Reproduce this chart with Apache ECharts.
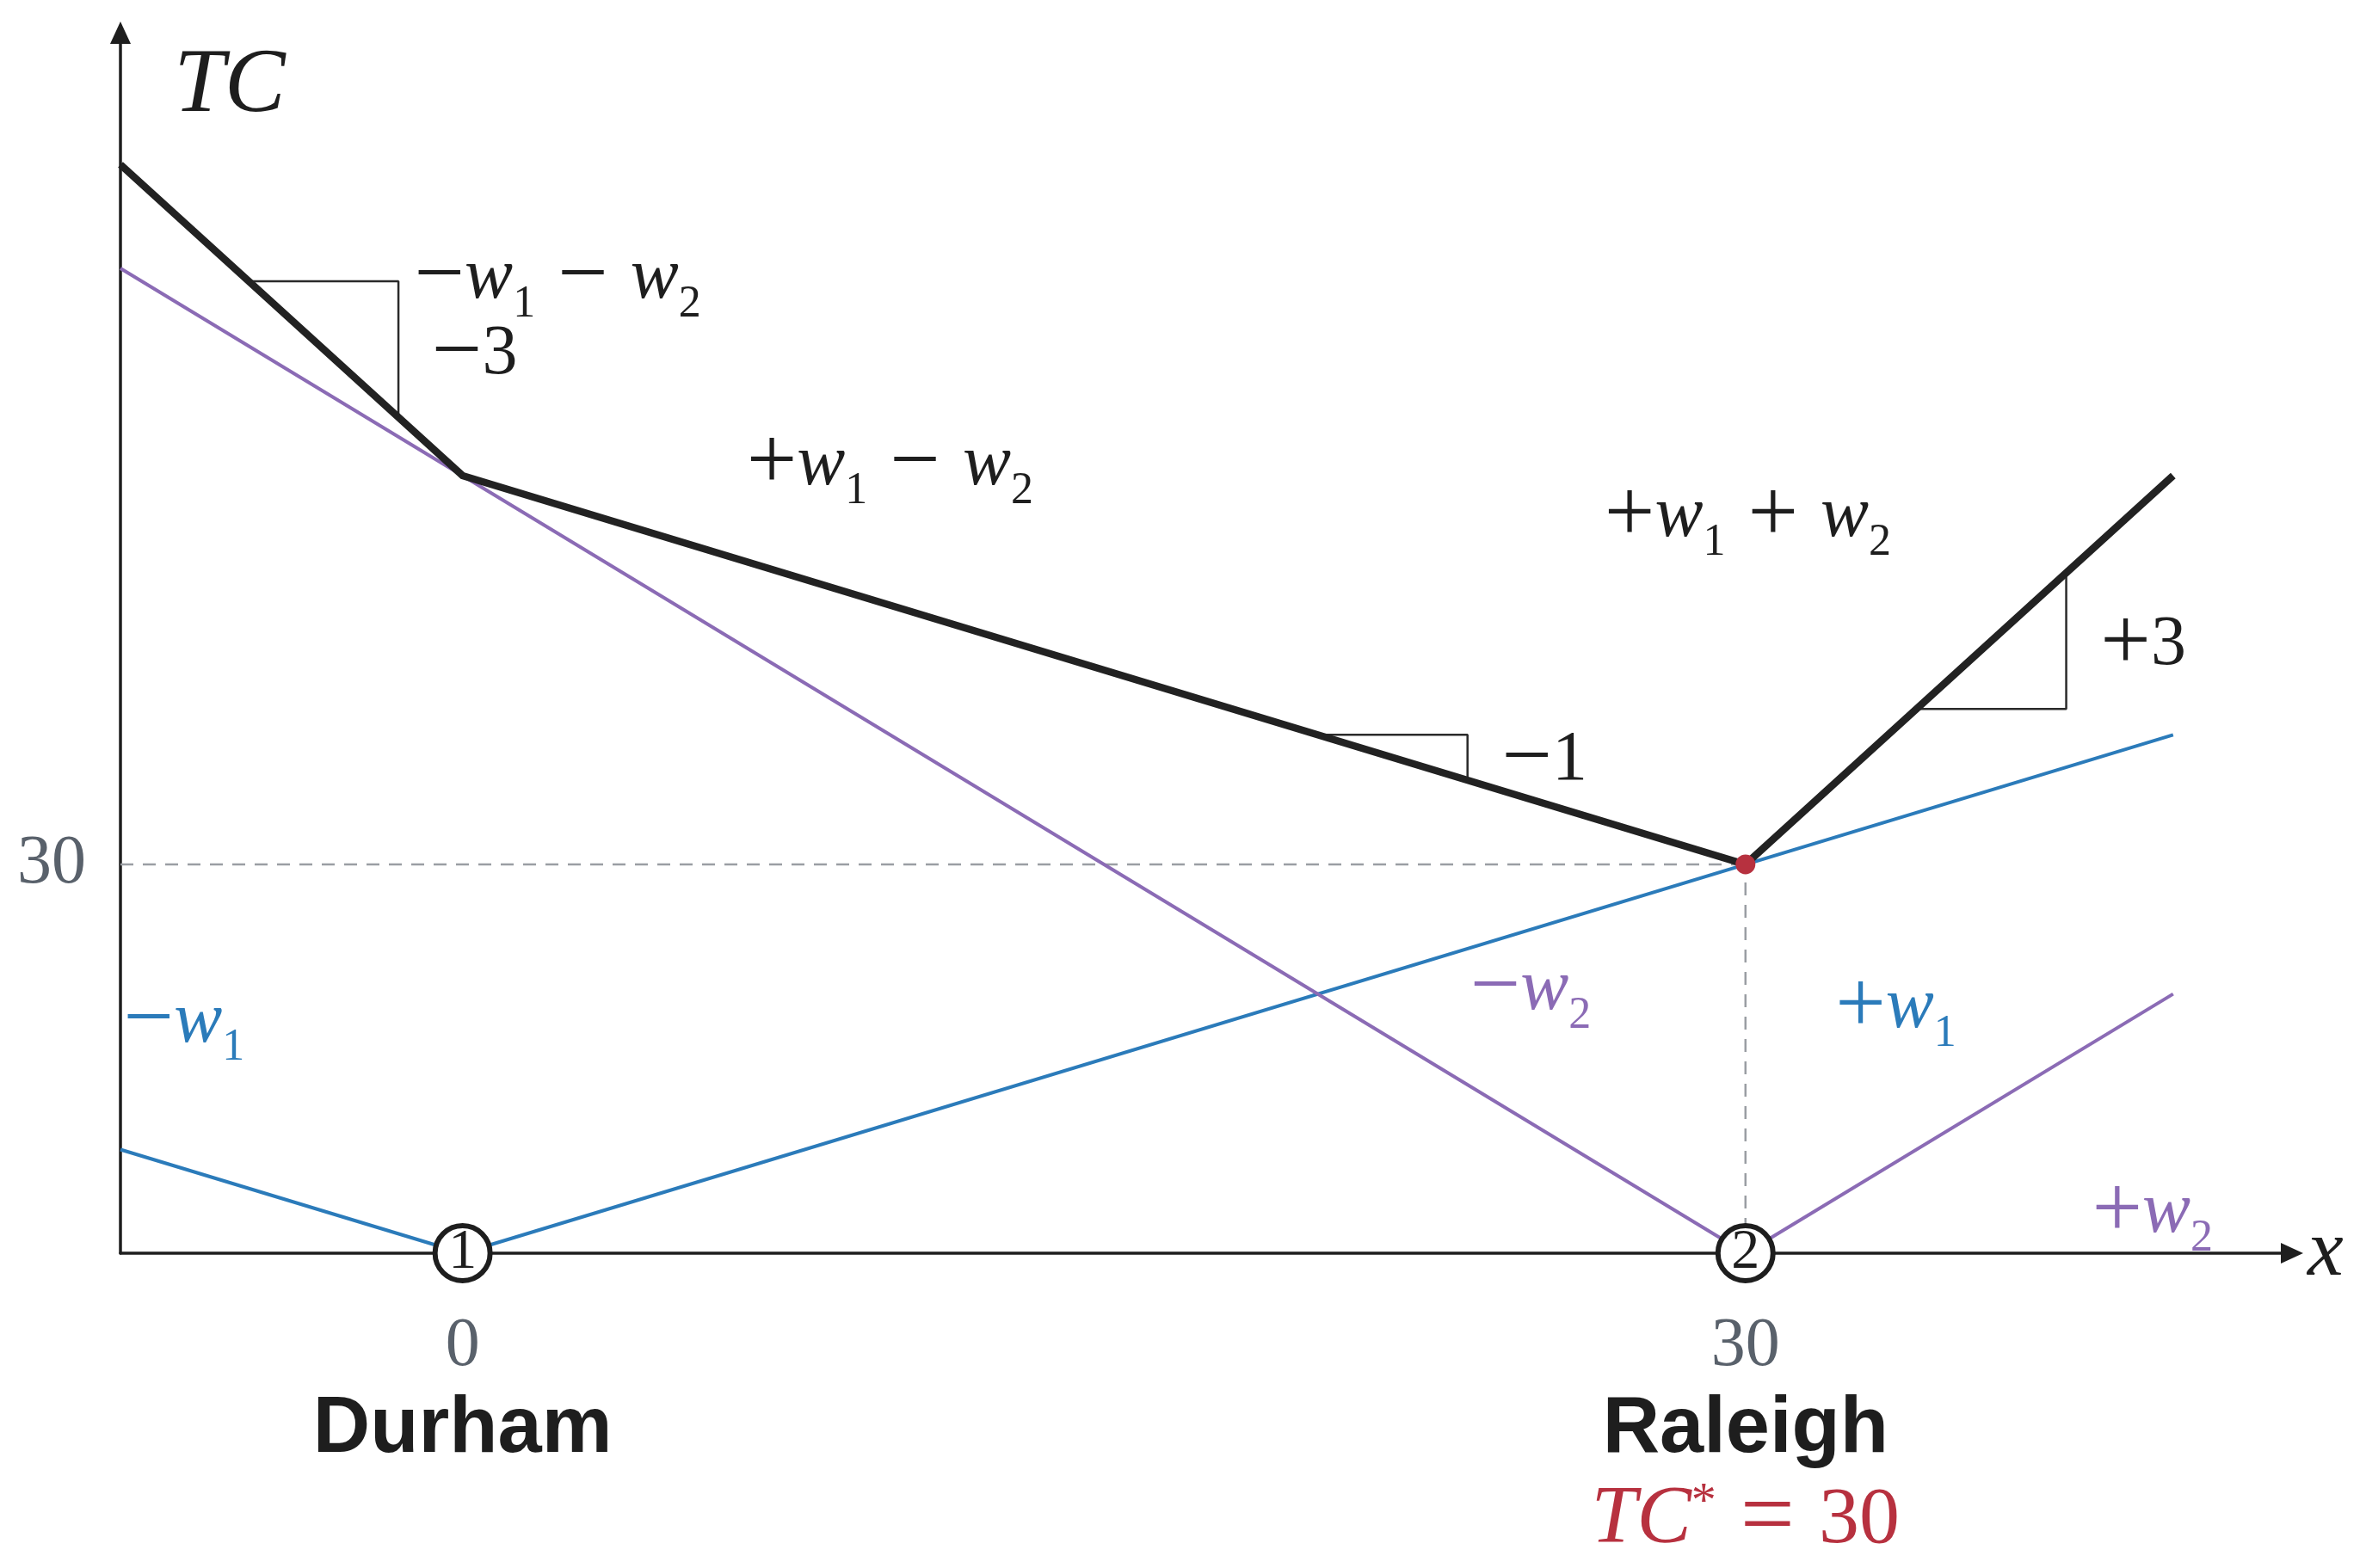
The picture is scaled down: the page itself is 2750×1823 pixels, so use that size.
<!DOCTYPE html>
<html>
<head>
    <meta charset="utf-8">
    <title>Total cost TC</title>
    <script src="https://cdn.jsdelivr.net/npm/echarts@6/dist/echarts.min.js"></script>
    <style>html, body { margin: 0; padding: 0; background: #fff; }</style>
</head>
<body>
<div id="main" style="width: 2750px;height:1823px;"></div>
<script type="text/javascript">
    // chart values
    const xTicks = [0, 30];
    const yTicks = [30];
    const cities = ['Durham', 'Raleigh'];
    const totalCost = [[-8, 84], [0, 60], [30, 30], [40, 60]];
    const costW1 = [[-8, 8], [0, 0], [40, 40]];
    const costW2 = [[-8, 76], [30, 0], [40, 20]];
    const optimum = [[30, 30]];
    const sites = [[0, 0, '1'], [30, 0, '2']];
    const slopeLeft = [[-5, 75], [-1.5, 75], [-1.5, 64.5]];
    const slopeMid = [[20, 40], [23.5, 40], [23.5, 36.5]];
    const slopeRight = [[34, 42], [37.5, 42], [37.5, 52.5]];
    const guideH = [[-8, 30], [30, 30]];
    const guideV = [[30, 0], [30, 30]];

    const BLUE = '#2b7bba';
    const PURPLE = '#8b6bb5';
    const INK = '#1e1e1e';
    const RED = '#b7313f';
    const SERIF = 'Liberation Serif';

    // annotation texts (left edge / vertical middle in data units)
    const inkNotes = [
        [[-6.75, 90.0], '{big|TC}'],
        [[-1.13, 75.2], '{p|−}{i|w}{s|1}{p| − }{i|w}{s|2}'],
        [[-0.72, 69.3], '{p|−}{d|3}'],
        [[6.64, 60.8], '{p|+}{i|w}{s|1}{p| − }{i|w}{s|2}'],
        [[26.7, 56.8], '{p|+}{i|w}{s|1}{p| + }{i|w}{s|2}'],
        [[24.3, 38.0], '{p|−}{d|1}'],
        [[38.3, 46.9], '{p|+}{d|3}']
    ];
    const blueNotes = [
        [[32.1, 18.9], '{p|+}{i|w}{s|1}'],
        [[-7.93, 17.8], '{p|−}{i|w}{s|1}']
    ];
    const purpleNotes = [
        [[23.56, 20.3], '{p|−}{i|w}{s|2}'],
        [[38.1, 3.1], '{p|+}{i|w}{s|2}']
    ];

    const myChart = echarts.init(document.getElementById('main'));

    function mathRich(color) {
        return {
            big: {fontFamily: SERIF, fontStyle: 'italic', fontSize: 106, color: color},
            i: {fontFamily: SERIF, fontStyle: 'italic', fontSize: 84, color: color},
            d: {fontFamily: SERIF, fontSize: 82, color: color},
            p: {fontFamily: SERIF, fontSize: 104, color: color},
            s: {fontFamily: SERIF, fontSize: 52, color: color, padding: [60, 0, 0, 0]}
        };
    }

    function noteSeries(list, color) {
        return {
            type: 'scatter', symbolSize: 0, silent: true, z: 8,
            itemStyle: {opacity: 1},
            data: list.map(function (n) {
                return {value: n[0], label: {formatter: n[1]}};
            }),
            label: {
                show: true, position: 'right', distance: 0,
                color: color, fontFamily: SERIF, fontSize: 84,
                rich: mathRich(color)
            }
        };
    }

    function thin(data) {
        return {
            type: 'line', data: data, symbol: 'none', silent: true, z: 3,
            lineStyle: {color: '#2a2a2a', width: 2.5}
        };
    }

    const option = {
        backgroundColor: '#fff',
        animation: false,
        textStyle: {fontFamily: SERIF},
        grid: {left: 140, right: 86, top: 38, bottom: 366, containLabel: false, outerBoundsMode: 'none'},
        xAxis: {
            type: 'value', min: -8, max: 42.78,
            splitLine: {show: false},
            axisTick: {show: false},
            axisLine: {
                onZero: false, symbol: ['none', 'triangle'], symbolSize: [24, 26],
                lineStyle: {color: INK, width: 3.5}
            },
            axisLabel: {
                customValues: xTicks, margin: 64,
                formatter: function (v) {
                    const i = xTicks.indexOf(v);
                    let s = '{n|' + v + '}\n{city|' + cities[i] + '}';
                    if (v === optimum[0][0]) {
                        s += '\n{ri|TC}{sup|*}{eq| = }{rn|' + optimum[0][1] + '}';
                    }
                    return s;
                },
                rich: {
                    n: {fontFamily: SERIF, fontSize: 80, color: '#59616b', lineHeight: 90},
                    city: {fontFamily: 'Liberation Sans', fontWeight: 'bold',
                        fontSize: 92, color: INK, lineHeight: 104},
                    ri: {fontFamily: SERIF, fontStyle: 'italic', fontSize: 95, color: RED, lineHeight: 106},
                    sup: {fontFamily: SERIF, fontSize: 58, color: RED, lineHeight: 106, padding: [0, 0, 40, 0]},
                    eq: {fontFamily: SERIF, fontSize: 112, color: RED, lineHeight: 106},
                    rn: {fontFamily: SERIF, fontSize: 94, color: RED, lineHeight: 106}
                }
            },
            name: 'x', nameLocation: 'end', nameGap: 18,
            nameTextStyle: {fontFamily: SERIF, fontStyle: 'italic', fontSize: 94, color: INK,
                padding: [20, 0, 0, 0]}
        },
        yAxis: {
            type: 'value', min: 0, max: 94.18,
            splitLine: {show: false},
            axisTick: {show: false},
            axisLine: {
                onZero: false, symbol: ['none', 'triangle'], symbolSize: [24, 26],
                lineStyle: {color: INK, width: 3.5}
            },
            axisLabel: {
                customValues: yTicks, margin: 40,
                fontFamily: SERIF, fontSize: 80, color: '#59616b'
            }
        },
        series: [
            {
                type: 'line', data: guideH, symbol: 'none', silent: true, z: 2,
                lineStyle: {color: '#9a9ea3', width: 2.5, type: [15, 11]}
            },
            {
                type: 'line', data: guideV, symbol: 'none', silent: true, z: 2,
                lineStyle: {color: '#9a9ea3', width: 2.5, type: [15, 11]}
            },
            {
                type: 'line', data: costW1, symbol: 'none', silent: true, z: 3,
                lineStyle: {color: BLUE, width: 4}
            },
            {
                type: 'line', data: costW2, symbol: 'none', silent: true, z: 3,
                lineStyle: {color: PURPLE, width: 4}
            },
            thin(slopeLeft), thin(slopeMid), thin(slopeRight),
            {
                type: 'line', data: totalCost, symbol: 'none', silent: true, z: 4,
                lineStyle: {color: '#222', width: 8.5, join: 'miter'}
            },
            {
                type: 'scatter', data: sites, symbol: 'circle', symbolSize: 64, silent: true, z: 6,
                itemStyle: {color: '#fff', borderColor: INK, borderWidth: 6, opacity: 1},
                label: {
                    show: true, position: 'inside',
                    formatter: function (p) { return p.value[2]; },
                    fontFamily: SERIF, fontSize: 66, color: INK
                }
            },
            {
                type: 'scatter', data: optimum, symbol: 'circle', symbolSize: 23, silent: true, z: 7,
                itemStyle: {color: RED, opacity: 1}
            },
            noteSeries(inkNotes, INK),
            noteSeries(blueNotes, BLUE),
            noteSeries(purpleNotes, PURPLE)
        ]
    };

    myChart.setOption(option);
</script>
</body>
</html>
